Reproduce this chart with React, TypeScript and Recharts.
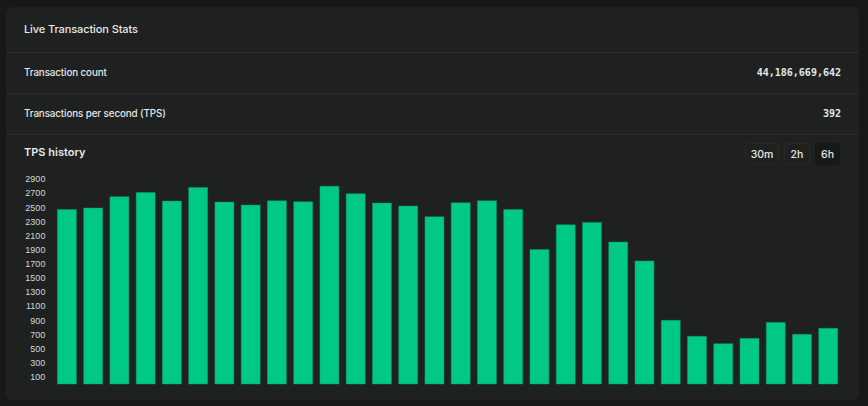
import React from "react";
import { BarChart, Bar, XAxis, YAxis } from "recharts";

const timeSlots: string[] = Array.from({ length: 30 }, (_, i) => `t${i + 1}`);
const tpsValues: number[] = [
  2470, 2490, 2650, 2711, 2588, 2782, 2574, 2532, 2593, 2579,
  2800, 2692, 2560, 2518, 2367, 2565, 2593, 2470, 1905, 2253,
  2287, 2008, 1740, 901, 675, 570, 646, 872, 703, 788,
];
const yTicks: number[] = [100, 300, 500, 700, 900, 1100, 1300, 1500, 1700, 1900, 2100, 2300, 2500, 2700, 2900];
const rangeButtons: string[] = ["30m", "2h", "6h"];
const statRows: { label: string; value: string }[] = [
  { label: "Transaction count", value: "44,186,669,642" },
  { label: "Transactions per second (TPS)", value: "392" },
];

const data = timeSlots.map((t, i) => ({ t, tps: tpsValues[i] }));

const UI_FONT = "Inter, 'Open Sans', sans-serif";
const MONO = "'DejaVu Sans Mono', 'Liberation Mono', monospace";

export default function App() {
  return (
    <div
      style={{
        position: "fixed",
        left: 0,
        top: 0,
        width: 868,
        height: 406,
        background: "#161918",
        fontFamily: UI_FONT,
        color: "#e6e8e7",
        overflow: "hidden",
      }}
    >
      <div
        style={{
          position: "absolute",
          left: 6,
          top: 7,
          width: 853,
          height: 393,
          background: "#1e2120",
          borderRadius: 6,
          overflow: "hidden",
        }}
      >
        {/* header */}
        <div
          style={{
            position: "absolute",
            left: 18,
            top: 0,
            height: 45,
            lineHeight: "45px",
            fontSize: 11,
            letterSpacing: -0.1,
            fontWeight: 500,
          }}
        >
          Live Transaction Stats
        </div>
        <div style={{ position: "absolute", left: 0, right: 0, top: 45, height: 1, background: "#282c2b" }} />
        {statRows.map((r, i) => (
          <React.Fragment key={r.label}>
            <div
              style={{
                position: "absolute",
                left: 18,
                top: 46 + i * 41,
                height: 40,
                lineHeight: "40px",
                fontSize: 9.8,
                letterSpacing: -0.1,
                fontWeight: 500,
              }}
            >
              {r.label}
            </div>
            <div
              style={{
                position: "absolute",
                right: 18,
                top: 46 + i * 41,
                height: 40,
                lineHeight: "40px",
                fontSize: 10,
                fontWeight: 700,
                fontFamily: MONO,
              }}
            >
              {r.value}
            </div>
            <div style={{ position: "absolute", left: 0, right: 0, top: 86 + i * 41, height: 1, background: "#282c2b" }} />
          </React.Fragment>
        ))}
        <div
          style={{
            position: "absolute",
            left: 18,
            top: 136,
            height: 18,
            lineHeight: "18px",
            fontSize: 11,
            fontWeight: 600,
          }}
        >
          TPS history
        </div>
        {rangeButtons.map((b, i) => {
          const lefts = [739, 778, 809];
          const widths = [34, 26, 25];
          const sel = i === 2;
          return (
            <div
              key={b}
              style={{
                position: "absolute",
                left: lefts[i],
                top: 136,
                width: widths[i],
                height: 22,
                lineHeight: "22px",
                textAlign: "center",
                fontSize: 10.5,
                fontWeight: 500,
                borderRadius: 3,
                boxSizing: "border-box",
                border: sel ? "1px solid #161918" : "1px solid #252928",
                background: sel ? "#161918" : "#1e2120",
                color: "#e6e8e7",
              }}
            >
              {b}
            </div>
          );
        })}
      </div>
      <div style={{ position: "absolute", left: 0, top: 160 }}>
        <BarChart
          width={868}
          height={240}
          data={data}
          margin={{ top: 12, right: 27, bottom: 16, left: 13.4 }}
        >
          <XAxis dataKey="t" hide />
          <YAxis
            width={40}
            domain={[0, 3000]}
            ticks={yTicks}
            interval={0}
            axisLine={false}
            tickLine={false}
            tickSize={0}
            tickMargin={8}
            tick={{ fontSize: 9, fill: "#d4d6d5", fontFamily: "'Liberation Sans', Arial, sans-serif" }}
          />
          <Bar
            dataKey="tps"
            fill="#00c986"
            stroke="#0a9a68"
            strokeWidth={0.5}
            barSize={19}
            isAnimationActive={false}
          />
        </BarChart>
      </div>
    </div>
  );
}
